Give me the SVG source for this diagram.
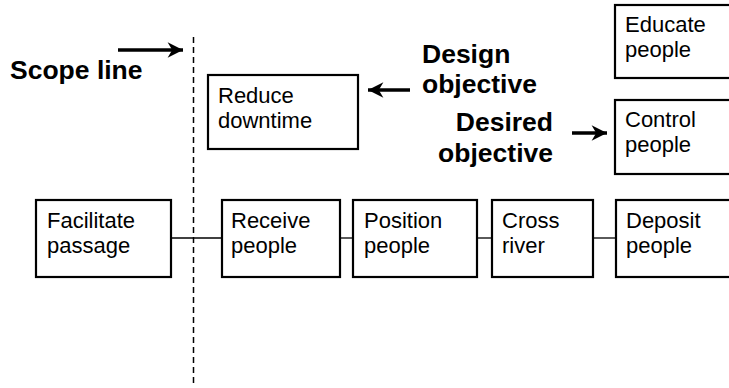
<svg xmlns="http://www.w3.org/2000/svg" width="729" height="388" viewBox="0 0 729 388">
<style>
.box{fill:#fff;stroke:#000;stroke-width:2.2}
.t{font-family:"Liberation Sans",Arial,sans-serif;font-size:22px;fill:#000}
.b{font-family:"Liberation Sans",Arial,sans-serif;font-size:26.5px;font-weight:bold;fill:#000}
.ln{stroke:#000;stroke-width:1.3;fill:none}
.arr{stroke:#000;stroke-width:3.5;fill:none}
</style>
<defs>
<marker id="ah" viewBox="0 0 10 10" refX="10" refY="5" markerWidth="5.5" markerHeight="4.4" markerUnits="strokeWidth" orient="auto">
<path d="M0,0 L10,5 L0,10 L3,5 Z" fill="#000"/>
</marker>
</defs>
<rect width="729" height="388" fill="#fff"/>
<g id="connectors">
<line class="ln" x1="171" y1="238" x2="222" y2="238"/>
<line class="ln" x1="340" y1="238" x2="353" y2="238"/>
<line class="ln" x1="477" y1="238" x2="492" y2="238"/>
<line class="ln" x1="593" y1="238" x2="616" y2="238"/>
<line x1="193.5" y1="37" x2="193.5" y2="386" stroke="#000" stroke-width="1.5" stroke-dasharray="6,4"/>
<line class="arr" x1="118" y1="50" x2="183" y2="50" marker-end="url(#ah)"/>
<line class="arr" x1="410" y1="90" x2="368" y2="90" marker-end="url(#ah)"/>
<line class="arr" x1="572" y1="133" x2="607" y2="133" marker-end="url(#ah)"/>
</g>
<g id="scope-label"><text class="b" x="10" y="79">Scope line</text></g>
<g id="design-label"><text class="b" x="422" y="63">Design</text><text class="b" x="422" y="93">objective</text></g>
<g id="desired-label"><text class="b" x="553" y="131" text-anchor="end">Desired</text><text class="b" x="553" y="162" text-anchor="end">objective</text></g>
<g id="reduce-downtime"><rect class="box" x="208" y="75" width="150" height="74"/><text class="t" x="218" y="103">Reduce</text><text class="t" x="218" y="128">downtime</text></g>
<g id="educate-people"><rect class="box" x="615" y="5" width="130" height="73"/><text class="t" x="625" y="32">Educate</text><text class="t" x="625" y="57">people</text></g>
<g id="control-people"><rect class="box" x="615" y="100" width="130" height="74"/><text class="t" x="625" y="127">Control</text><text class="t" x="625" y="152">people</text></g>
<g id="facilitate-passage"><rect class="box" x="36" y="200" width="135" height="77"/><text class="t" x="47" y="228">Facilitate</text><text class="t" x="47" y="253">passage</text></g>
<g id="receive-people"><rect class="box" x="222" y="200" width="118" height="77"/><text class="t" x="231" y="228">Receive</text><text class="t" x="231" y="253">people</text></g>
<g id="position-people"><rect class="box" x="353" y="200" width="124" height="77"/><text class="t" x="364" y="228">Position</text><text class="t" x="364" y="253">people</text></g>
<g id="cross-river"><rect class="box" x="492" y="200" width="101" height="77"/><text class="t" x="502" y="228">Cross</text><text class="t" x="502" y="253">river</text></g>
<g id="deposit-people"><rect class="box" x="616" y="200" width="130" height="77"/><text class="t" x="626" y="228">Deposit</text><text class="t" x="626" y="253">people</text></g>
</svg>
